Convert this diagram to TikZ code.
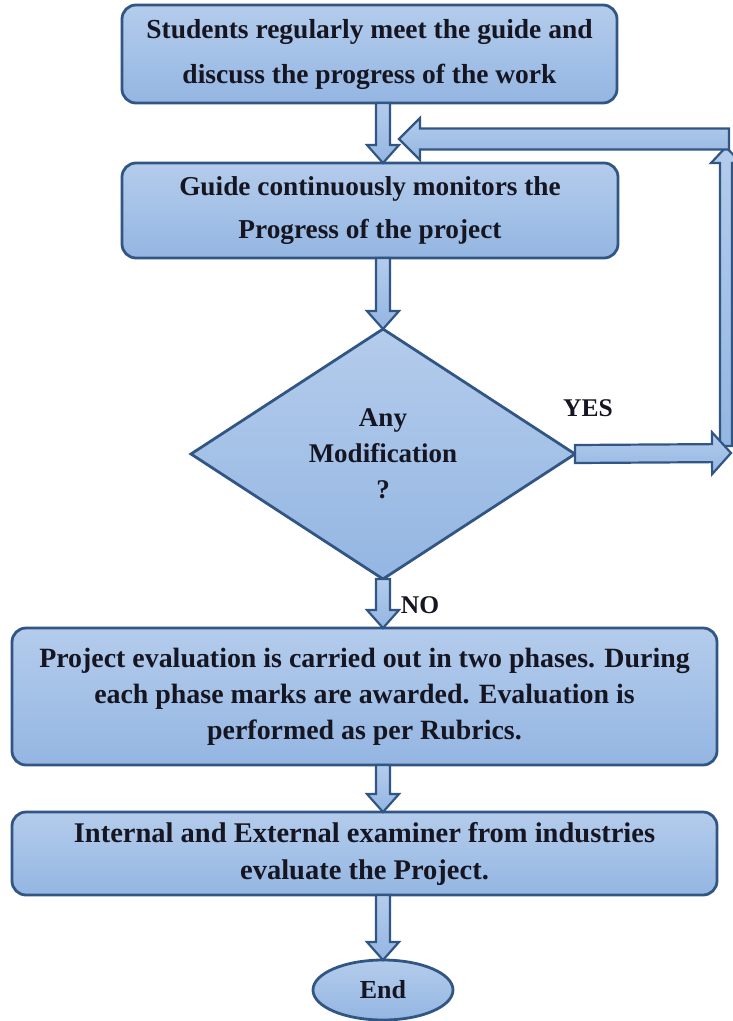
\documentclass[tikz,border=0pt]{standalone}
\usepackage{fontspec}
\setmainfont{Liberation Serif}[BoldFont={Liberation Serif Bold}]
\usetikzlibrary{shapes.geometric,calc}
\definecolor{boxtop}{RGB}{180,204,236}
\definecolor{boxbot}{RGB}{148,182,226}
\definecolor{boxline}{RGB}{50,86,132}
\definecolor{inkdark}{RGB}{22,22,34}

% hollow block arrow from #1 to #2: shaft half-width #3, head half-width #4, head length #5
\newcommand{\blockarrow}[5]{%
  \coordinate (ba-h) at ($(#2)!#5!(#1)$);
  \draw[barrow]
    ($(#1)!#3!90:(#2)$) -- ($(ba-h)!#3!-90:(#1)$) -- ($(ba-h)!#4!-90:(#1)$) -- (#2)
    -- ($(ba-h)!#4!90:(#1)$) -- ($(ba-h)!#3!90:(#1)$) -- ($(#1)!#3!-90:(#2)$) -- cycle;}

\begin{document}
\begin{tikzpicture}[x=1pt,y=-1pt,
  shape base/.style={draw=boxline, top color=boxtop, bottom color=boxbot,
    line width=2.8pt, outer sep=0pt, inner sep=0pt, align=center, text=inkdark},
  box/.style={shape base, rectangle, rounded corners=14pt},
  barrow/.style={draw=boxline, top color=boxtop, bottom color=boxbot,
    line width=2.2pt, line join=miter},
  lbl/.style={font=\bfseries\fontsize{25.5}{28}\selectfont, inner sep=0pt, text=inkdark}]
\useasboundingbox (0,0) rectangle (732,1021);

\node[box, minimum width=495, minimum height=98,
  font=\bfseries\fontsize{27.5}{45}\selectfont] (b1) at (369.5,54)
  {Students regularly meet the guide and\\discuss the progress of the work};
\node[box, minimum width=496, minimum height=95,
  font=\bfseries\fontsize{27.3}{43}\selectfont] (b2) at (370,210.5)
  {Guide continuously monitors the\\Progress of the project};
\node[shape base, diamond, minimum width=384, minimum height=250,
  font=\bfseries\fontsize{27}{36}\selectfont] (d) at (383,454)
  {Any\\Modification\\?};
\node[box, minimum width=705, minimum height=137,
  font=\bfseries\fontsize{27.9}{36}\selectfont] (b3) at (364.5,696.5)
  {Project evaluation is carried out in two phases. During\\each phase marks are awarded. Evaluation is\\performed as per Rubrics.};
\node[box, minimum width=705, minimum height=83,
  font=\bfseries\fontsize{28.5}{37}\selectfont] (b4) at (364.5,853.5)
  {Internal and External examiner from industries\\evaluate the Project.};
\node[shape base, ellipse, minimum width=140, minimum height=60,
  font=\bfseries\fontsize{26}{30}\selectfont] (e) at (383,990) {End};

% arrow end points on the main column
\coordinate (a1s) at (b1.south -| d.north);
\coordinate (a1e) at (b2.north -| d.north);
\coordinate (a2s) at (b2.south -| d.north);
\coordinate (a3e) at (b3.north -| d.north);
\coordinate (a4s) at (b3.south -| d.north);
\coordinate (a4e) at (b4.north -| d.north);
\coordinate (a5s) at (b4.south -| d.north);

\blockarrow{a1s}{a1e}{7pt}{16pt}{18pt}
\blockarrow{a2s}{d.north}{7pt}{16pt}{18pt}
\blockarrow{d.south}{a3e}{7pt}{16pt}{18pt}
\blockarrow{a4s}{a4e}{7pt}{16pt}{18pt}
\blockarrow{a5s}{e.north}{7pt}{16pt}{18pt}

% loop back for the YES branch
\coordinate (yesEnd) at (731,453);
\coordinate (upStart) at (726,446);
\coordinate (upEnd) at (726,147);
\coordinate (backStart) at (729,139);
\coordinate (backEnd) at (399,139);
\blockarrow{upStart}{upEnd}{6pt}{15pt}{16pt}
\blockarrow{d.east}{yesEnd}{9pt}{21pt}{19pt}
\blockarrow{backStart}{backEnd}{10.5pt}{21pt}{21pt}

\node[lbl] (yes) at (588,408) {YES};
\node[lbl] (no) at (420,605) {NO};
\end{tikzpicture}
\end{document}
